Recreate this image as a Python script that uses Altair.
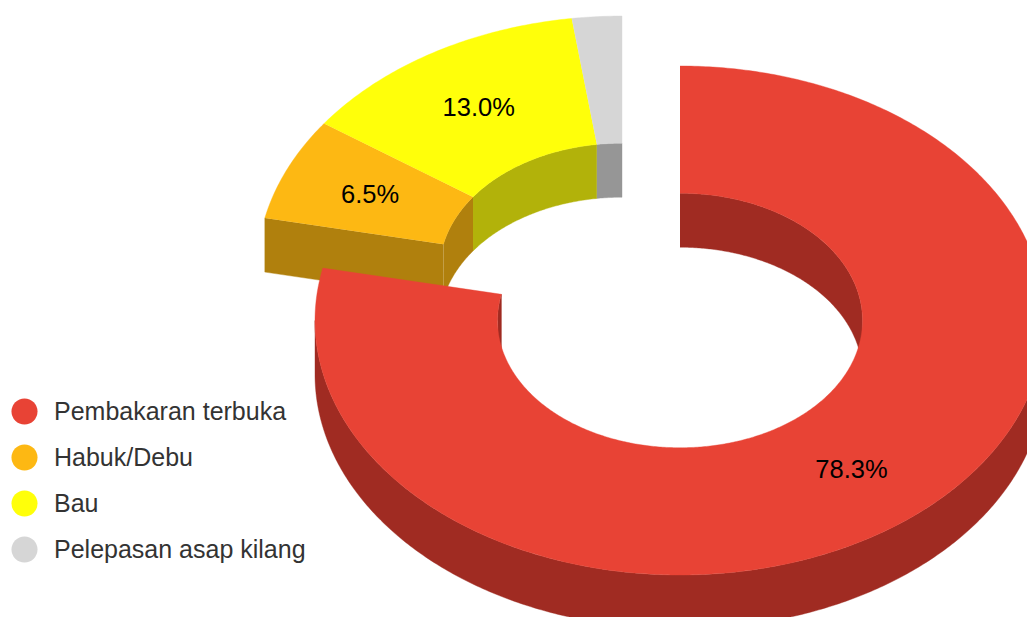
import math
import altair as alt
import pandas as pd

categories = ["Pembakaran terbuka", "Habuk/Debu", "Bau", "Pelepasan asap kilang"]
shares = [78.3, 6.5, 13.0, 2.2]
labels = ["78.3%", "6.5%", "13.0%", ""]
top_colors = ["#E84335", "#FDB813", "#FFFF0A", "#D6D6D6"]
side_colors = ["#A02B22", "#B0800D", "#B2B20A", "#969696"]

# geometry in unit-disc coordinates
HOLE = 0.5
DEPTH = 54 / 254.5
SHIFT_X = [0, -58 / 365, -58 / 365, -58 / 365]
SHIFT_Y = [0, 50 / 254.5, 50 / 254.5, 50 / 254.5]

W, H = 1019, 609
# the plot area spans the page from (8, 8) to (8 + W, 8 + H)
X_DOMAIN = [(8 - 680) / 365, (8 + W - 680) / 365]
Y_DOMAIN = [(320.5 - (8 + H)) / 254.5, (320.5 - 8) / 254.5]


def pt(r, a, dx, dy, drop=0.0):
    return dx + r * math.sin(a), dy + r * math.cos(a) - drop


def arc(r, a0, a1, dx, dy, drop=0.0):
    n = max(2, int(abs(a1 - a0) / 0.01))
    return [pt(r, a0 + (a1 - a0) * i / n, dx, dy, drop) for i in range(n + 1)]


def layer_poly(points, color):
    df = pd.DataFrame(points, columns=["x", "y"])
    df["o"] = range(len(df))
    return (
        alt.Chart(df)
        .mark_line(filled=True, fill=color, stroke=color, strokeWidth=0.4, clip=True, interpolate="linear")
        .encode(
            x=alt.X("x:Q", scale=alt.Scale(domain=X_DOMAIN, nice=False, zero=False), axis=None),
            y=alt.Y("y:Q", scale=alt.Scale(domain=Y_DOMAIN, nice=False, zero=False), axis=None),
            order="o:Q",
        )
    )


def box(r0, r1, a, dx, dy):
    return [pt(r0, a, dx, dy), pt(r1, a, dx, dy), pt(r1, a, dx, dy, DEPTH), pt(r0, a, dx, dy, DEPTH)]


def wall(r, a0, a1, dx, dy):
    return arc(r, a0, a1, dx, dy) + arc(r, a1, a0, dx, dy, DEPTH)


def top(a0, a1, dx, dy):
    return arc(1, a0, a1, dx, dy) + arc(HOLE, a1, a0, dx, dy)


total = sum(shares)
spans = []
acc = 0.0
for s in shares:
    spans.append((acc / total * 2 * math.pi, (acc + s) / total * 2 * math.pi))
    acc += s

layers = []
text_rows = []

# exploded slices first, then the large slice over them
for i in [1, 2, 3, 0]:
    a0, a1 = spans[i]
    dx, dy = SHIFT_X[i], SHIFT_Y[i]
    col, dark = top_colors[i], side_colors[i]
    if i == 0:
        # far inner wall from 12 o'clock to the right, near end, outer front wall
        layers.append(layer_poly(wall(HOLE, a0, math.pi / 2, dx, dy), dark))
        layers.append(layer_poly(wall(HOLE, 1.5 * math.pi, a1, dx, dy), dark))
        layers.append(layer_poly(wall(1, math.pi / 2, 1.5 * math.pi, dx, dy), dark))
    else:
        layers.append(layer_poly(wall(HOLE, a0, a1, dx, dy), dark))
        if i == 1:
            layers.append(layer_poly(box(HOLE, 1, a0, dx, dy), dark))
    layers.append(layer_poly(top(a0, a1, dx, dy), col))
    mid = (a0 + a1) / 2
    lx, ly = pt((1 + HOLE) / 2, mid, dx, dy)
    if labels[i]:
        text_rows.append({"x": lx, "y": ly, "t": labels[i]})

legend_df = pd.DataFrame({"cat": categories})
legend_layer = (
    alt.Chart(legend_df)
    .mark_circle(size=0, opacity=1)
    .encode(
        x=alt.value(0),
        y=alt.value(0),
        color=alt.Color(
            "cat:N",
            scale=alt.Scale(domain=categories, range=top_colors),
            sort=categories,
            legend=alt.Legend(
                title=None,
                orient="none",
                legendX=3,
                legendY=390,
                symbolType="circle",
                symbolSize=678,
                symbolStrokeWidth=0,
                labelFont="Liberation Sans",
                labelFontSize=25,
                labelColor="#333333",
                labelOffset=16,
                labelLimit=400,
                rowPadding=19,
                padding=0,
            ),
        ),
    )
)

text_layer = (
    alt.Chart(pd.DataFrame(text_rows))
    .mark_text(font="Liberation Sans", fontSize=25.5, color="#000000", align="center", baseline="middle", dy=1, dx=-1)
    .encode(
        x=alt.X("x:Q", scale=alt.Scale(domain=X_DOMAIN, nice=False, zero=False), axis=None),
        y=alt.Y("y:Q", scale=alt.Scale(domain=Y_DOMAIN, nice=False, zero=False), axis=None),
        text="t:N",
    )
)

chart = (
    alt.layer(legend_layer, *layers, text_layer)
    .properties(width=W, height=H, padding=0, background="#ffffff")
    .configure_view(stroke=None)
)

chart.save("out.html", embed_options={"renderer": "svg", "actions": False})
